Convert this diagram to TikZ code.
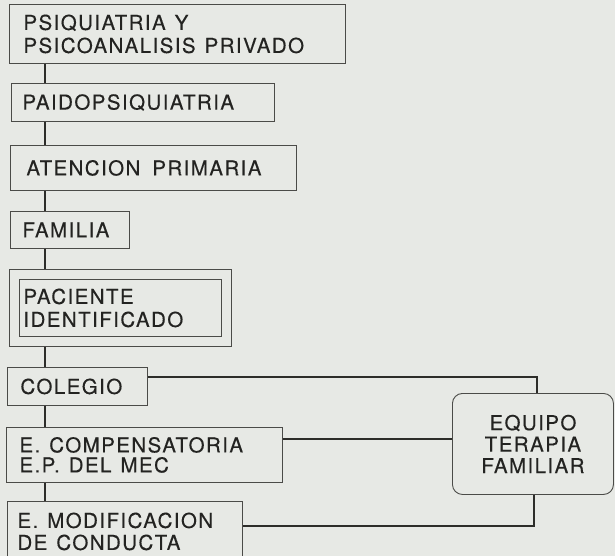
\documentclass[tikz,border=0pt]{standalone}
\usepackage{fontspec}
\setmainfont{TeX Gyre Heros}[LetterSpace=7, FakeBold=0.3]
\usetikzlibrary{fit}
\newcommand\wsp{\hspace*{9pt}}
\definecolor{bgc}{RGB}{231,233,229}
\definecolor{boxc}{RGB}{75,75,72}
\definecolor{linec}{RGB}{45,45,42}
\definecolor{txt}{RGB}{35,35,33}
\begin{document}
\begin{tikzpicture}[x=1pt,y=-1pt,
  bx/.style={draw=boxc, line width=0.9pt, rectangle, anchor=north west, align=left,
    inner ysep=0pt, text=txt, font=\fontsize{20.5}{23}\selectfont},
  conn/.style={draw=linec, line width=1.6pt},
  eqbox/.style={draw=boxc, line width=0.9pt, rectangle, rounded corners=10pt, anchor=north west,
    align=center, inner xsep=8pt, inner ysep=0pt, text=txt, font=\fontsize{20.5}{21.5}\selectfont}]
\fill[bgc] (0,0) rectangle (615,556);
\useasboundingbox (0,0) rectangle (615,556);

\node[bx, inner xsep=14pt, text width=308pt, minimum height=59pt] (p1) at (9,4) {PSIQUIATRIA\wsp Y\\PSICOANALISIS\wsp PRIVADO};
\node[bx, inner xsep=11pt, text width=241pt, minimum height=38pt] (p2) at (11,83) {PAIDOPSIQUIATRIA};
\node[bx, inner xsep=16pt, text width=254pt, minimum height=45pt] (p3) at (10,145) {ATENCION\hspace*{12pt}PRIMARIA};
\node[bx, inner xsep=12pt, text width=95pt, minimum height=37pt] (p4) at (10,211) {FAMILIA};
\node[bx, inner xsep=4pt, text width=194pt, minimum height=57pt] (p5) at (19,279) {PACIENTE\\IDENTIFICADO};
\node[draw=boxc, line width=0.9pt, fit=(p5), inner sep=9.5pt] (p5o) {};
\node[bx, inner xsep=13pt, text width=114pt, minimum height=38pt] (p6) at (7,367) {COLEGIO};
\node[bx, inner xsep=13pt, text width=250pt, minimum height=55pt, font=\fontsize{20.5}{20}\selectfont] (p7) at (6,427) {E.\wsp COMPENSATORIA\\E.P.\wsp DEL\wsp MEC};
\node[bx, inner xsep=10pt, text width=215pt, minimum height=60pt, font=\fontsize{20.5}{22}\selectfont] (p8) at (7,501) {E.\wsp MODIFICACION\\DE\wsp CONDUCTA};
\node[eqbox, text width=145pt, minimum height=101pt] (eq) at (452,393) {EQUIPO\\TERAPIA\\FAMILIAR};

\coordinate (sp) at (45,0);
\draw[conn] (p1.south -| sp) -- (p2.north -| sp);
\draw[conn] (p2.south -| sp) -- (p3.north -| sp);
\draw[conn] (p3.south -| sp) -- (p4.north -| sp);
\draw[conn] (p4.south -| sp) -- (p5o.north -| sp);
\draw[conn] (p5o.south -| sp) -- (p6.north -| sp);
\draw[conn] (p6.south -| sp) -- (p7.north -| sp);
\draw[conn] (p7.south -| sp) -- (p8.north -| sp);

\coordinate (c1) at (537,377);
\coordinate (c2) at (0,439);
\coordinate (c3) at (534,526);
\draw[conn] (p6.east |- c1) -| (eq.north -| c1);
\draw[conn] (p7.east |- c2) -- (eq.west |- c2);
\draw[conn] (eq.south -| c3) |- (p8.east |- c3);
\end{tikzpicture}
\end{document}
